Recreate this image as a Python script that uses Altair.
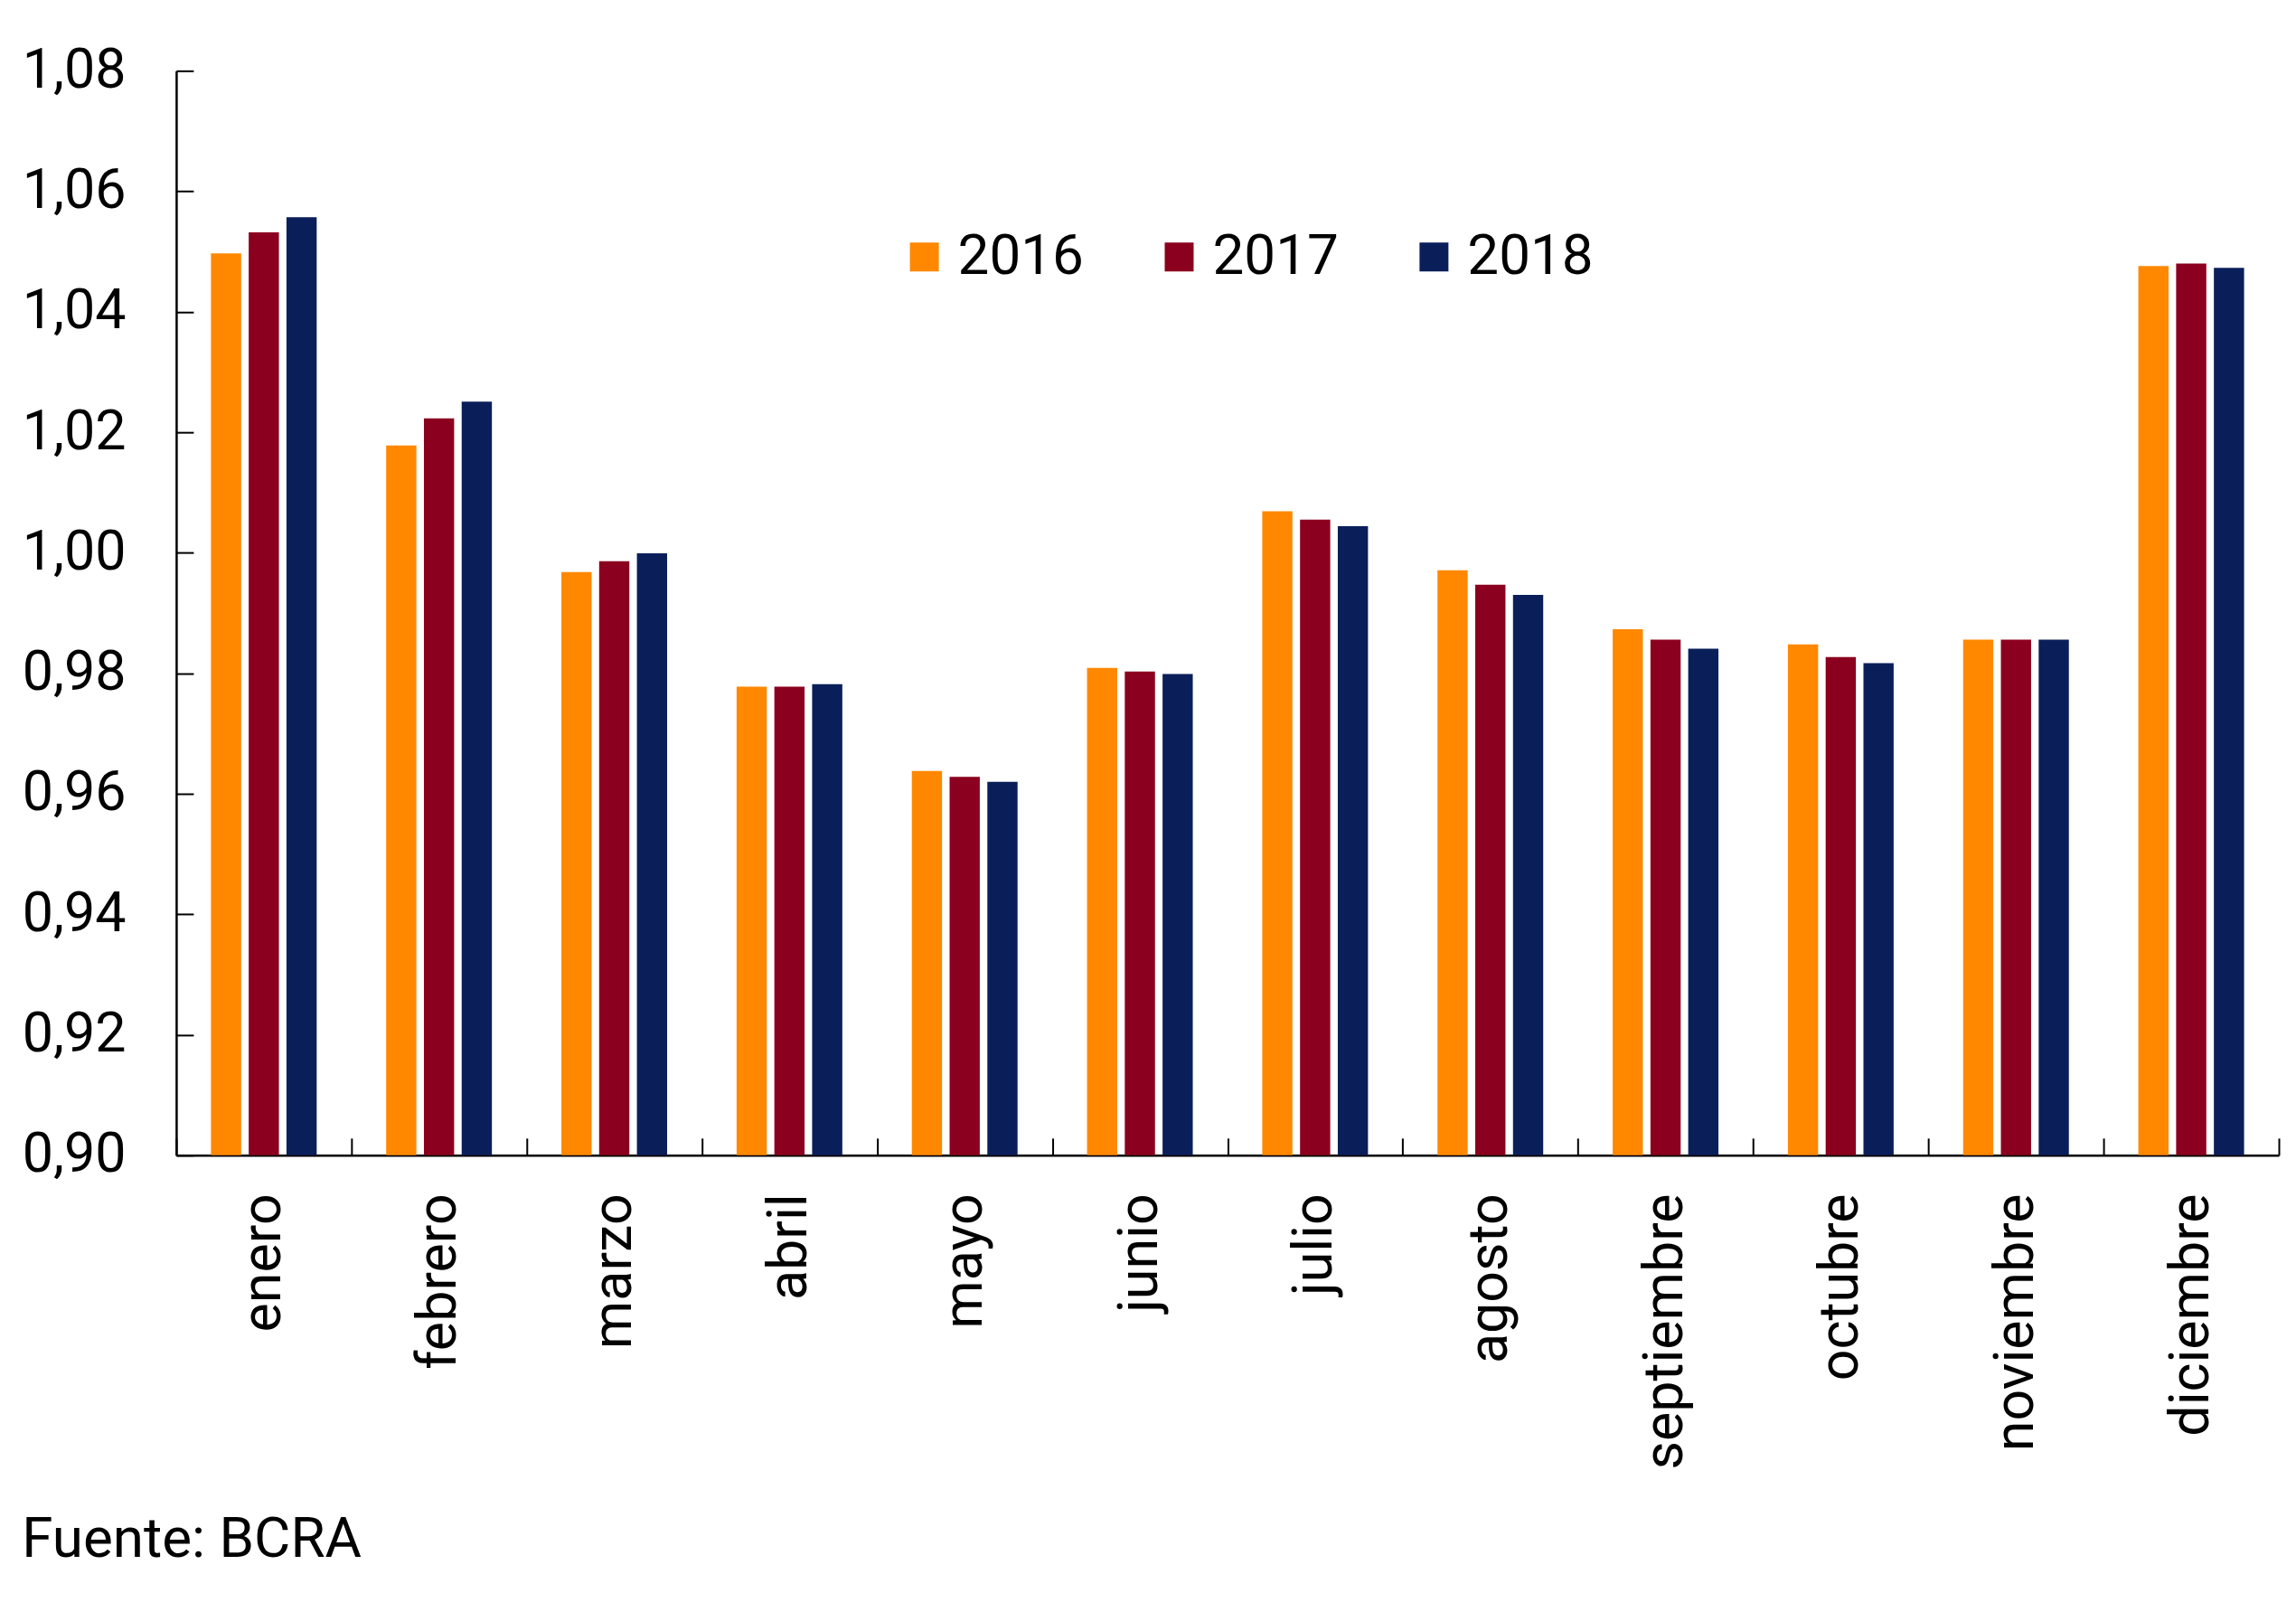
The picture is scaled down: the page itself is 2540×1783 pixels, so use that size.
import altair as alt
import pandas as pd

months = ["enero", "febrero", "marzo", "abril", "mayo", "junio", "julio",
          "agosto", "septiembre", "octubre", "noviembre", "diciembre"]
years = ["2016", "2017", "2018"]
v2016 = [1.0497, 1.0178, 0.9968, 0.9778, 0.9638, 0.9809, 1.0069, 0.9971, 0.9873, 0.9848, 0.9856, 1.0476]
v2017 = [1.0532, 1.0223, 0.9986, 0.9778, 0.9628, 0.9803, 1.0055, 0.9947, 0.9856, 0.9827, 0.9856, 1.0480]
v2018 = [1.0557, 1.0251, 0.9999, 0.9782, 0.9620, 0.9799, 1.0044, 0.9930, 0.9841, 0.9817, 0.9856, 1.0473]
y_ticks = [0.90, 0.92, 0.94, 0.96, 0.98, 1.00, 1.02, 1.04, 1.06, 1.08]
y_min, y_max = 0.90, 1.08
colors = ["#FF8800", "#8C001F", "#0A1F5A"]
source = "Fuente: BCRA"

rows = []
for yr, vals in zip(years, [v2016, v2017, v2018]):
    for m, v in zip(months, vals):
        rows.append({"mes": m, "anio": yr, "valor": v})
df = pd.DataFrame(rows)

FONT = "Roboto"
xscale = alt.Scale(domain=months, paddingInner=0, paddingOuter=0)
yscale = alt.Scale(domain=[y_min, y_max], zero=False, nice=False)
label_expr = "replace(format(datum.value, '.2f'), '.', ',')"
inward = alt.ExprRef("-19")

chart = alt.Chart(df).mark_bar().encode(
    x=alt.X("mes:N", sort=months, scale=xscale, title=None,
            axis=alt.Axis(orient="bottom", labelAngle=-90, labelFontSize=61, labelFont=FONT,
                          labelColor="black", labelPadding=61, labelLimit=0,
                          ticks=True, tickSize=inward, tickBand="extent", tickColor="black",
                          tickWidth=2, domain=True, domainColor="black", domainWidth=2.5)),
    xOffset=alt.XOffset("anio:N", sort=years, scale=alt.Scale(paddingInner=0.2, paddingOuter=0.92)),
    y=alt.Y("valor:Q", scale=yscale, title=None,
            axis=alt.Axis(orient="left", values=y_ticks, labelExpr=label_expr, labelFontSize=61,
                          labelFont=FONT, labelColor="black", labelPadding=75,
                          ticks=True, tickSize=inward, tickColor="black", tickWidth=2,
                          grid=False, domain=True, domainColor="black", domainWidth=2.5)),
    y2=alt.datum(y_min),
    color=alt.Color("anio:N", sort=years, scale=alt.Scale(domain=years, range=colors),
                    legend=alt.Legend(orient="none", legendX=797, legendY=175, direction="horizontal",
                                      title=None, symbolType="square", symbolSize=1024,
                                      symbolStrokeWidth=0, labelFontSize=62, labelFont=FONT,
                                      labelColor="black", labelOffset=6, columnPadding=74,
                                      padding=0)),
).properties(
    width=2327, height=1200,
    background="white",
    padding={"left": 16, "top": 39, "right": 10, "bottom": 10},
    title=alt.TitleParams(source, orient="bottom", anchor="start", frame="bounds",
                          fontSize=62, font=FONT, fontWeight="normal", color="black", offset=48),
).configure_view(stroke=None)

chart.save("out.html", embed_options={"renderer": "svg", "actions": False})
